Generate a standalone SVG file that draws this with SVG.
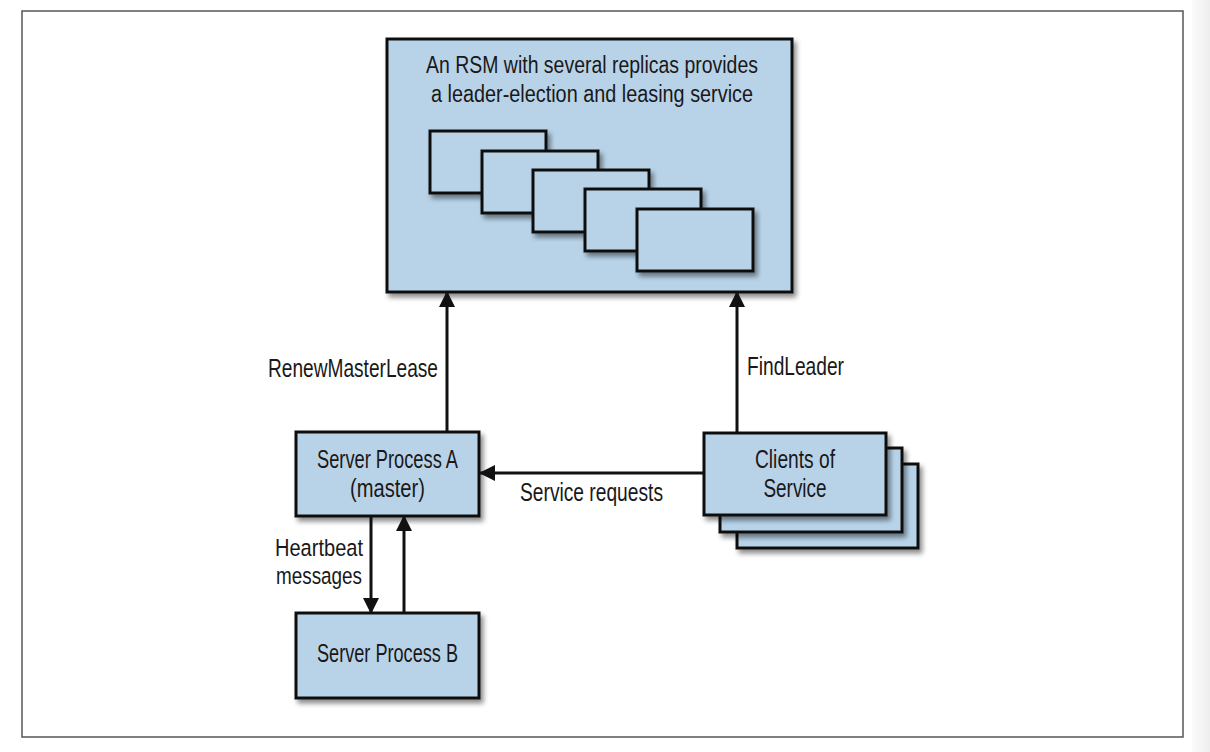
<svg xmlns="http://www.w3.org/2000/svg" width="1210" height="752" viewBox="0 0 1210 752">
  <defs>
    <style>
      .box { fill: #b8d3e8; stroke: #111; stroke-width: 3; filter: url(#shadow); }
      .txt { font-family: "Liberation Sans", Arial, sans-serif; font-size: 25.5px; fill: #1a1818; }
      .title { font-size: 23px; }
      .small { font-size: 24.5px; }
      .conn { stroke: #111; stroke-width: 3; fill: none; marker-end: url(#arrow); }
    </style>
    <filter id="shadow" x="-20%" y="-20%" width="150%" height="150%">
      <feDropShadow dx="3" dy="4" stdDeviation="2.5" flood-color="#000" flood-opacity="0.45"/>
    </filter>
    <marker id="arrow" markerUnits="userSpaceOnUse" markerWidth="16" markerHeight="16" refX="15" refY="8" orient="auto">
      <path d="M0,0 L16,8 L0,16 z" fill="#111"/>
    </marker>
    <linearGradient id="side" x1="0" y1="0" x2="1" y2="0">
      <stop offset="0" stop-color="#fbfbfb"/>
      <stop offset="1" stop-color="#eeeeee"/>
    </linearGradient>
  </defs>

  <rect x="0" y="0" width="1210" height="752" fill="#ffffff"/>
  <rect x="1192" y="0" width="18" height="752" fill="url(#side)"/>
  <rect x="22" y="11" width="1161" height="726" fill="#ffffff" stroke="#555" stroke-width="1.5"/>

  <g id="rsm">
    <rect class="box" x="387" y="39" width="405" height="253"/>
    <text class="txt title" x="592" y="73" text-anchor="middle" textLength="332" lengthAdjust="spacingAndGlyphs">An RSM with several replicas provides</text>
    <text class="txt title" x="592" y="102" text-anchor="middle" textLength="322" lengthAdjust="spacingAndGlyphs">a leader-election and leasing service</text>
    <g id="replicas">
      <rect class="box" x="430" y="131" width="116" height="62"/>
      <rect class="box" x="482" y="151" width="116" height="62"/>
      <rect class="box" x="533" y="170" width="116" height="62"/>
      <rect class="box" x="585" y="189" width="116" height="62"/>
      <rect class="box" x="637" y="209" width="116" height="62"/>
    </g>
  </g>

  <g id="serverA">
    <rect class="box" x="296" y="432" width="183" height="84"/>
    <text class="txt" x="387.5" y="468" text-anchor="middle" textLength="141" lengthAdjust="spacingAndGlyphs">Server Process A</text>
    <text class="txt" x="387.5" y="497" text-anchor="middle" textLength="75" lengthAdjust="spacingAndGlyphs">(master)</text>
  </g>

  <g id="serverB">
    <rect class="box" x="296" y="613" width="183" height="85"/>
    <text class="txt" x="387.5" y="662" text-anchor="middle" textLength="141" lengthAdjust="spacingAndGlyphs">Server Process B</text>
  </g>

  <g id="clients">
    <rect class="box" x="737" y="464" width="181" height="84"/>
    <rect class="box" x="720" y="448" width="182" height="84"/>
    <rect class="box" x="704" y="433" width="182" height="82"/>
    <text class="txt" x="795" y="468" text-anchor="middle" textLength="80" lengthAdjust="spacingAndGlyphs">Clients of</text>
    <text class="txt" x="795" y="497" text-anchor="middle" textLength="63" lengthAdjust="spacingAndGlyphs">Service</text>
  </g>

  <g id="connectors">
    <line class="conn" x1="447" y1="431" x2="447" y2="292"/>
    <line class="conn" x1="737" y1="432" x2="737" y2="292"/>
    <line class="conn" x1="703" y1="473" x2="480" y2="473"/>
    <line class="conn" x1="371" y1="517" x2="371" y2="613"/>
    <line class="conn" x1="404" y1="612" x2="404" y2="516"/>
    <text class="txt" x="268" y="377" textLength="170" lengthAdjust="spacingAndGlyphs">RenewMasterLease</text>
    <text class="txt" x="747" y="375" textLength="97" lengthAdjust="spacingAndGlyphs">FindLeader</text>
    <text class="txt" x="520" y="501" textLength="143" lengthAdjust="spacingAndGlyphs">Service requests</text>
    <text class="txt small" x="275" y="556" textLength="88" lengthAdjust="spacingAndGlyphs">Heartbeat</text>
    <text class="txt small" x="276" y="584" textLength="86" lengthAdjust="spacingAndGlyphs">messages</text>
  </g>
</svg>
